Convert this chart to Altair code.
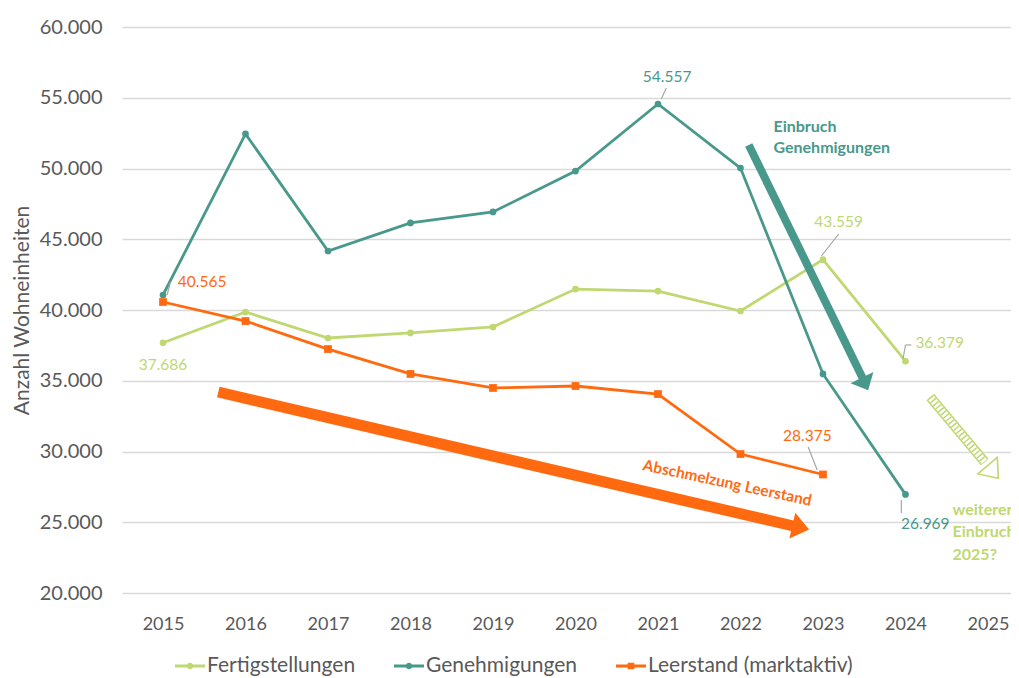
import altair as alt
import pandas as pd

# ---------------- data ----------------
years = [2015, 2016, 2017, 2018, 2019, 2020, 2021, 2022, 2023, 2024]
fertigstellungen = [37686, 39860, 38020, 38380, 38800, 41480, 41340, 39930, 43559, 36379]
genehmigungen = [41060, 52440, 44170, 46150, 46930, 49820, 54557, 50030, 35480, 26969]
leer_years = [2015, 2016, 2017, 2018, 2019, 2020, 2021, 2022, 2023]
leerstand = [40565, 39220, 37240, 35480, 34490, 34630, 34060, 29820, 28375]

series_names = ["Fertigstellungen", "Genehmigungen", "Leerstand (marktaktiv)"]
series_colors = ["#C0D872", "#48998B", "#FF6A10"]
x_ticks = [2015, 2016, 2017, 2018, 2019, 2020, 2021, 2022, 2023, 2024, 2025]
y_ticks = [20000, 25000, 30000, 35000, 40000, 45000, 50000, 55000, 60000]

# value labels (which point, where the label sits)
lab_series = ["Genehmigungen", "Fertigstellungen", "Fertigstellungen", "Genehmigungen",
              "Leerstand (marktaktiv)", "Fertigstellungen", "Leerstand (marktaktiv)"]
lab_value = [54557, 43559, 36379, 26969, 40565, 37686, 28375]
lab_x = [2021.11, 2023.19, 2024.12, 2024.24, 2015.18, 2015.0, 2022.81]
lab_y = [56466, 46219, 37668, 24876, 41979, 36113, 31095]
lab_left = [False, False, True, False, True, False, False]

# leader lines
lead_x1 = [2021.04, 2022.98, 2023.97, 2024.00, 2023.95, 2022.82, 2015.05]
lead_y1 = [54912, 43816, 36537, 37527, 26572, 30318, 41060]
lead_x2 = [2021.10, 2023.19, 2024.00, 2024.07, 2023.95, 2022.93, 2015.09]
lead_y2 = [55689, 45371, 37527, 37527, 25654, 28693, 41979]

# annotation arrows
teal_arrow_x = [2022.10, 2023.48]
teal_arrow_y = [51661, 35194]
teal_head_x, teal_head_y = [2023.51], [34770]
orange_arrow_x = [2015.67, 2022.64]
orange_arrow_y = [34205, 24735]
orange_head_x, orange_head_y = [2022.73], [24629]
green_arrow_x = [2024.30, 2024.96]
green_arrow_y = [33852, 29258]
green_head_x, green_head_y = [2025.06], [28551]

# annotation texts
teal_text = ["Einbruch", "Genehmigungen"]
teal_text_x = [2022.40, 2022.40]
teal_text_y = [52933, 51449]
orange_text = ["Abschmelzung Leerstand"]
orange_text_x = [2021.84]
orange_text_y = [27774]
green_text = ["weiterer", "Einbruch", "2025?"]
green_text_x = [2024.57, 2024.57, 2024.57]
green_text_y = [25866, 24311, 22686]

FONT = "Lato"
GRAY = "#595959"
col = dict(zip(series_names, series_colors))


def de(v):
    return f"{v:,}".replace(",", ".")


df = pd.concat([
    pd.DataFrame({"x": years, "y": fertigstellungen, "series": series_names[0]}),
    pd.DataFrame({"x": years, "y": genehmigungen, "series": series_names[1]}),
    pd.DataFrame({"x": leer_years, "y": leerstand, "series": series_names[2]}),
], ignore_index=True)

xs = alt.Scale(domain=[2014.503, 2025.279], nice=False, zero=False)
ys = alt.Scale(domain=[20000, 60000], nice=False, zero=False)

X = alt.X("x:Q", scale=xs, axis=alt.Axis(values=x_ticks, format="d", grid=False, ticks=False,
                                          domain=False, labelPadding=22, labelFontSize=18,
                                          labelColor=GRAY, labelFont=FONT, title=None,
                                          labelFlush=False, labelOverlap=False))
Y = alt.Y("y:Q", scale=ys, axis=alt.Axis(values=y_ticks, grid=True, gridColor="#D9D9D9",
                                          gridWidth=1.3, ticks=False, domain=False,
                                          labelExpr="replace(format(datum.value, ','), ',', '.')",
                                          labelPadding=20, labelFontSize=20, labelColor=GRAY,
                                          labelFont=FONT, title="Anzahl Wohneinheiten",
                                          titleFont=FONT, titleFontSize=21, titleFontWeight="normal",
                                          titleColor=GRAY, titlePadding=7, labelFlush=False,
                                          labelOverlap=False))

layers = []
for name in series_names:
    layers.append(alt.Chart(df).transform_filter(alt.datum.series == name)
                  .mark_line(strokeWidth=2.8, color=col[name])
                  .encode(x=X, y=Y))
for name in series_names:
    shape = "square" if name.startswith("Leer") else "circle"
    size = 60 if shape == "square" else 45
    layers.append(alt.Chart(df).transform_filter(alt.datum.series == name)
                  .mark_point(filled=True, shape=shape, size=size, opacity=1, color=col[name])
                  .encode(x=X, y=Y))

# leader lines
lead_df = pd.DataFrame({"x": lead_x1, "y": lead_y1, "x2": lead_x2, "y2": lead_y2})
layers.append(alt.Chart(lead_df).mark_rule(color="#A6A6A6", strokeWidth=1.2)
              .encode(x=X, y=Y, x2="x2:Q", y2="y2:Q"))

# value labels
lab_df = pd.DataFrame({"x": lab_x, "y": lab_y, "text": [de(v) for v in lab_value],
                       "color": [col[s] for s in lab_series], "left": lab_left})
for left in (False, True):
    layers.append(alt.Chart(lab_df).transform_filter(alt.datum.left == left)
                  .mark_text(font=FONT, fontSize=15.5, align="left" if left else "center",
                             baseline="middle")
                  .encode(x=X, y=Y, text="text:N", color=alt.Color("color:N", scale=None)))

# teal arrow
layers.append(alt.Chart(pd.DataFrame({"x": teal_arrow_x, "y": teal_arrow_y}))
              .mark_line(strokeWidth=8, color=series_colors[1]).encode(x=X, y=Y))
layers.append(alt.Chart(pd.DataFrame({"x": teal_head_x, "y": teal_head_y}))
              .mark_point(filled=True, opacity=1, color=series_colors[1], size=650, angle=63.9,
                          shape="M-0.55,-1L0.55,0L-0.55,1Z")
              .encode(x=X, y=Y))
# orange arrow
layers.append(alt.Chart(pd.DataFrame({"x": orange_arrow_x, "y": orange_arrow_y}))
              .mark_line(strokeWidth=11, color=series_colors[2]).encode(x=X, y=Y))
layers.append(alt.Chart(pd.DataFrame({"x": orange_head_x, "y": orange_head_y}))
              .mark_point(filled=True, opacity=1, color=series_colors[2], size=700, angle=13,
                          shape="M-0.65,-1L0.65,0L-0.65,1Z")
              .encode(x=X, y=Y))
# green hatched arrow
gdf = pd.DataFrame({"x": green_arrow_x, "y": green_arrow_y})
layers.append(alt.Chart(gdf).mark_line(strokeWidth=10, color=series_colors[0]).encode(x=X, y=Y))
layers.append(alt.Chart(gdf).mark_line(strokeWidth=7, color="white").encode(x=X, y=Y))
layers.append(alt.Chart(gdf).mark_line(strokeWidth=7, color=series_colors[0], strokeDash=[1.5, 2.5])
              .encode(x=X, y=Y))
layers.append(alt.Chart(pd.DataFrame({"x": green_head_x, "y": green_head_y}))
              .mark_point(filled=True, opacity=1, fill="white", stroke=series_colors[0], strokeWidth=1.6,
                          size=650, angle=49.7, shape="M-0.65,-1L0.65,0L-0.65,1Z")
              .encode(x=X, y=Y))

# annotation texts
layers.append(alt.Chart(pd.DataFrame({"x": teal_text_x, "y": teal_text_y, "t": teal_text}))
              .mark_text(font=FONT, fontSize=16, fontWeight="bold", align="left", baseline="middle",
                         color=series_colors[1])
              .encode(x=X, y=Y, text="t:N"))
layers.append(alt.Chart(pd.DataFrame({"x": orange_text_x, "y": orange_text_y, "t": orange_text}))
              .mark_text(font=FONT, fontSize=15.5, fontWeight="bold", align="center", baseline="middle",
                         color=series_colors[2], angle=12)
              .encode(x=X, y=Y, text="t:N"))
layers.append(alt.Chart(pd.DataFrame({"x": green_text_x, "y": green_text_y, "t": green_text}))
              .mark_text(font=FONT, fontSize=16, fontWeight="bold", align="left", baseline="middle",
                         color=series_colors[0])
              .encode(x=X, y=Y, text="t:N"))

# legend-only layer
circ = "M-1,-0.1H1V0.1H-1Z M0.22,0A0.22,0.22,0,1,1,-0.22,0A0.22,0.22,0,1,1,0.22,0Z"
sq = "M-1,-0.1H1V0.1H-1Z M-0.22,-0.22H0.22V0.22H-0.22Z"
leg = alt.Legend(title=None, orient="none", legendX=53, legendY=624, direction="horizontal",
                 labelFont=FONT, labelFontSize=21, labelColor=GRAY, labelOffset=2, labelLimit=0,
                 columnPadding=38, symbolSize=900, symbolStrokeWidth=0, padding=0)
layers.append(alt.Chart(df).transform_filter("false")
              .mark_point(filled=True, opacity=1)
              .encode(x=X, y=Y,
                      color=alt.Color("series:N", scale=alt.Scale(domain=series_names, range=series_colors),
                                      legend=leg),
                      shape=alt.Shape("series:N", scale=alt.Scale(domain=series_names, range=[circ, circ, sq]),
                                      legend=leg)))

chart = (alt.layer(*layers)
         .properties(width=889, height=566,
                     padding={"left": 114, "top": 19, "right": 0, "bottom": 85},
                     autosize=alt.AutoSizeParams(type="none"))
         .configure(font=FONT)
         .configure_view(stroke=None))

chart.save("out.html", embed_options={"renderer": "svg", "actions": False})
